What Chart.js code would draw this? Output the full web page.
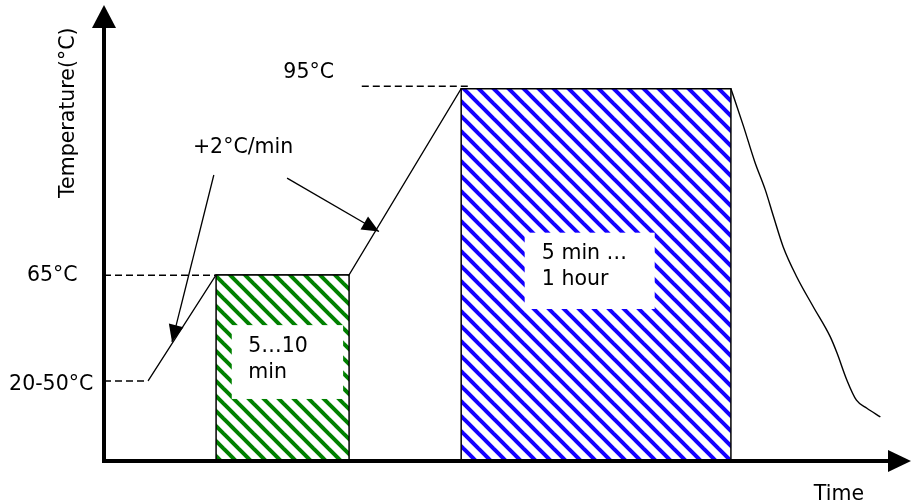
<!DOCTYPE html>
<html>
<head>
<meta charset="utf-8">
<script src="https://cdn.jsdelivr.net/npm/chart.js@4/dist/chart.umd.min.js"></script>
<style>
  html, body { margin: 0; padding: 0; background: #fff; }
  canvas { display: block; }
</style>
</head>
<body>
<canvas id="profileChart" width="916" height="504"></canvas>
<script>
// scale ranges (time in minutes, temperature in °C)
var timeMin = 0, timeMax = 108;
var tempMin = 35, tempMax = 108.5;

// heating profile (straight segments)
var profileTime = [5.9, 15, 32.8, 47.8, 83.9];
var profileTemp = [47.9, 65, 65, 95, 95];

// cooling down
var coolTime = [83.9, 85.6, 87.1, 88.5, 89.6, 90.9, 92.7, 94.9, 97.2, 98.1, 99.4, 100.7, 102.1, 103.9];
var coolTemp = [95, 88.9, 83.2, 78.7, 74.4, 69.5, 64.7, 59.9, 55.0, 52.4, 48.1, 44.8, 43.5, 42.1];

// hold phases
var holdStart = [15, 47.8];
var holdEnd = [32.8, 83.9];
var holdTemp = [65, 95];
var holdColors = ["#008000", "#1400ff"];
var holdNotes = [["5\u202610", "min"], ["5 min \u2026", "1 hour"]];
var noteBoxTimeFrom = [17.1, 56.3];
var noteBoxTimeTo = [32.0, 73.7];
var noteBoxTempLow = [45.0, 59.5];
var noteBoxTempHigh = [56.9, 71.8];
var noteTime = [19.3, 58.6];
var noteTemp = [52.6, 67.6];

// dashed guide lines
var guideFrom = [0, 0, 34.5];
var guideTo = [5.9, 15, 49.1];
var guideTemp = [47.9, 64.95, 95.4];

// arrows pointing at the +2°C/min ramps
var arrowFromTime = [14.7, 24.5];
var arrowFromTemp = [81.1, 80.6];
var arrowToTime = [9.1, 36.8];
var arrowToTemp = [54.2, 72.0];

// text labels
var labelText = ["95°C", "+2°C/min", "65°C", "20-50°C", "Time"];
var labelTime = [24.0, 11.9, -10.3, -12.7, 95.0];
var labelTemp = [96.7, 84.6, 64.0, 46.4, 28.7];
var axisTitle = "Temperature(°C)";
var axisTitleTime = -4.0, axisTitleTemp = 77.4;

var FONT = "20.5px 'DejaVu Sans', Verdana, sans-serif";

function points(xs, ys) {
    return xs.map(function (x, i) { return { x: x, y: ys[i] }; });
}

// diagonal hatch like "\\\"
function stripes(color) {
    var tile = document.createElement("canvas");
    tile.width = 15;
    tile.height = 15;
    var c = tile.getContext("2d");
    c.fillStyle = "#fff";
    c.fillRect(0, 0, 15, 15);
    c.strokeStyle = color;
    c.lineWidth = 4;
    [-15, 0, 15].forEach(function (k) {
        c.beginPath();
        c.moveTo(-3, -3 + k);
        c.lineTo(18, 18 + k);
        c.stroke();
    });
    return c.createPattern(tile, "repeat");
}

var datasets = [];

holdStart.forEach(function (s, i) {
    datasets.push({
        data: points([s, s, holdEnd[i], holdEnd[i]], [tempMin, holdTemp[i], holdTemp[i], tempMin]),
        borderColor: "#000",
        borderWidth: 1.5,
        backgroundColor: stripes(holdColors[i]),
        fill: "start",
        pointRadius: 0,
        clip: false
    });
});

datasets.push({
    data: points(profileTime, profileTemp),
    borderColor: "#000",
    borderWidth: 1.3,
    fill: false,
    pointRadius: 0
});

datasets.push({
    data: points(coolTime, coolTemp),
    borderColor: "#000",
    borderWidth: 1.4,
    cubicInterpolationMode: "monotone",
    fill: false,
    pointRadius: 0
});

guideFrom.forEach(function (f, i) {
    datasets.push({
        data: points([f, guideTo[i]], [guideTemp[i], guideTemp[i]]),
        borderColor: "#000",
        borderWidth: 1.4,
        borderDash: [7, 4],
        fill: false,
        pointRadius: 0
    });
});

arrowFromTime.forEach(function (f, i) {
    datasets.push({
        data: points([f, arrowToTime[i]], [arrowFromTemp[i], arrowToTemp[i]]),
        borderColor: "#000",
        borderWidth: 1.3,
        fill: false,
        pointRadius: 0,
        arrow: true
    });
});

function arrowHead(ctx, x0, y0, x1, y1, len, half) {
    var a = Math.atan2(y1 - y0, x1 - x0);
    ctx.beginPath();
    ctx.moveTo(x1, y1);
    ctx.lineTo(x1 - len * Math.cos(a) + half * Math.sin(a), y1 - len * Math.sin(a) - half * Math.cos(a));
    ctx.lineTo(x1 - len * Math.cos(a) - half * Math.sin(a), y1 - len * Math.sin(a) + half * Math.cos(a));
    ctx.closePath();
    ctx.fill();
}

var decorPlugin = {
    id: "decor",
    afterDatasetsDraw: function (chart) {
        var ctx = chart.ctx;
        var xs = chart.scales.x, ys = chart.scales.y;
        var area = chart.chartArea;
        ctx.save();

        // arrow heads on the pointer lines
        ctx.fillStyle = "#000";
        chart.data.datasets.forEach(function (ds) {
            if (!ds.arrow) return;
            var p0 = ds.data[0], p1 = ds.data[1];
            arrowHead(ctx, xs.getPixelForValue(p0.x), ys.getPixelForValue(p0.y),
                xs.getPixelForValue(p1.x), ys.getPixelForValue(p1.y), 17, 7.5);
        });

        // white note boxes inside the hold phases
        ctx.font = FONT;
        ctx.textBaseline = "alphabetic";
        ctx.textAlign = "left";
        holdNotes.forEach(function (lines, i) {
            var x0 = xs.getPixelForValue(noteBoxTimeFrom[i]);
            var x1 = xs.getPixelForValue(noteBoxTimeTo[i]);
            var y0 = ys.getPixelForValue(noteBoxTempHigh[i]);
            var y1 = ys.getPixelForValue(noteBoxTempLow[i]);
            ctx.fillStyle = "#fff";
            ctx.fillRect(x0, y0, x1 - x0, y1 - y0);
            ctx.fillStyle = "#000";
            var tx = xs.getPixelForValue(noteTime[i]);
            var ty = ys.getPixelForValue(noteTemp[i]);
            lines.forEach(function (t, j) {
                ctx.fillText(t, tx, ty + j * 26);
            });
        });

        // labels
        labelText.forEach(function (t, i) {
            ctx.fillText(t, xs.getPixelForValue(labelTime[i]), ys.getPixelForValue(labelTemp[i]));
        });
        ctx.save();
        ctx.translate(xs.getPixelForValue(axisTitleTime), ys.getPixelForValue(axisTitleTemp));
        ctx.rotate(-Math.PI / 2);
        ctx.fillText(axisTitle, 0, 0);
        ctx.restore();

        // axes with arrow heads
        ctx.strokeStyle = "#000";
        ctx.lineWidth = 4;
        ctx.beginPath();
        ctx.moveTo(area.left, area.bottom + 2);
        ctx.lineTo(area.left, area.top + 20);
        ctx.moveTo(area.left - 2, area.bottom);
        ctx.lineTo(area.right - 20, area.bottom);
        ctx.stroke();
        arrowHead(ctx, area.left, area.bottom, area.left, area.top, 23, 12);
        arrowHead(ctx, area.left, area.bottom, area.right, area.bottom, 23, 11);

        ctx.restore();
    }
};

var chart = new Chart(document.getElementById("profileChart"), {
    type: "line",
    data: { datasets: datasets },
    options: {
        responsive: false,
        devicePixelRatio: 1,
        animation: false,
        layout: { padding: { left: 104, right: 5, top: 5, bottom: 43 } },
        scales: {
            x: { type: "linear", min: timeMin, max: timeMax, display: false },
            y: { type: "linear", min: tempMin, max: tempMax, display: false }
        },
        plugins: {
            legend: { display: false },
            tooltip: { enabled: false }
        }
    },
    plugins: [decorPlugin]
});
</script>
</body>
</html>
